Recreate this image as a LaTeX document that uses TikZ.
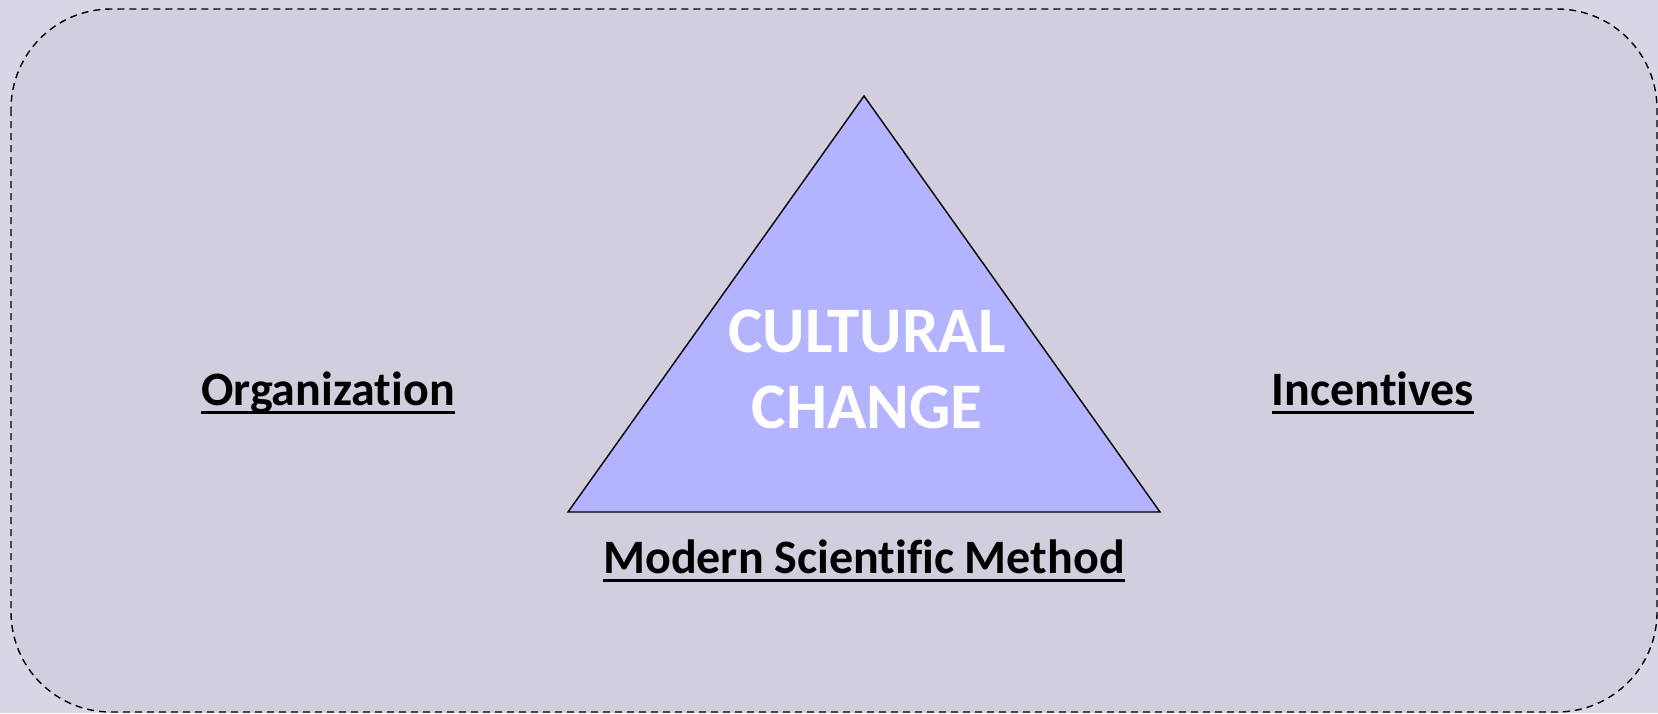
\documentclass[tikz,border=0pt]{standalone}
\usepackage{fontspec}
\setmainfont{Carlito}[Ligatures=NoCommon]
\usetikzlibrary{positioning}
\definecolor{pagebg}{RGB}{217,213,229}
\definecolor{framebg}{RGB}{210,206,222}
\definecolor{trifill}{RGB}{179,179,255}
\newcommand{\ulword}[1]{\setbox0\hbox{#1}\vtop{\copy0\kern-\dp0\kern3pt\hrule height 1.5pt}}
\tikzset{frame/.style={draw=black,dash pattern=on 3.5pt off 2.5pt,line width=0.7pt,rounded corners=50pt,fill=framebg},
         tri/.style={draw=black,line width=0.7pt,fill=trifill,line join=miter},
         side label/.style={font=\bfseries\fontsize{24}{29}\selectfont,inner sep=0pt},
         core label/.style={font=\bfseries\fontsize{32.5}{38}\selectfont,text=white,align=center,inner sep=0pt},
}

\begin{document}
\begin{tikzpicture}[x=0.5pt,y=-0.5pt]

\fill[pagebg] (0,0) rectangle (1658,713);
\useasboundingbox (0,0) rectangle (1658,713);
\draw[frame] (11,9) rectangle (1657,712);

% triangle
\coordinate (apex) at (864,96);
\coordinate (base left) at (568,512);
\coordinate (base right) at (1160,512);
\draw[tri] (apex) -- (base left) -- (base right) -- cycle;

\node[core label] (change) at (867,369) {CULTURAL\\CHANGE};

\node[side label,anchor=base] (org) at (328,405) {\ulword{Organization}};
\node[side label,anchor=base] (inc) at (1373,405) {\ulword{Incentives}};
\node[side label,anchor=base] (msm) at (864,573) {\ulword{Modern Scientific Method}};
\end{tikzpicture}
\end{document}
